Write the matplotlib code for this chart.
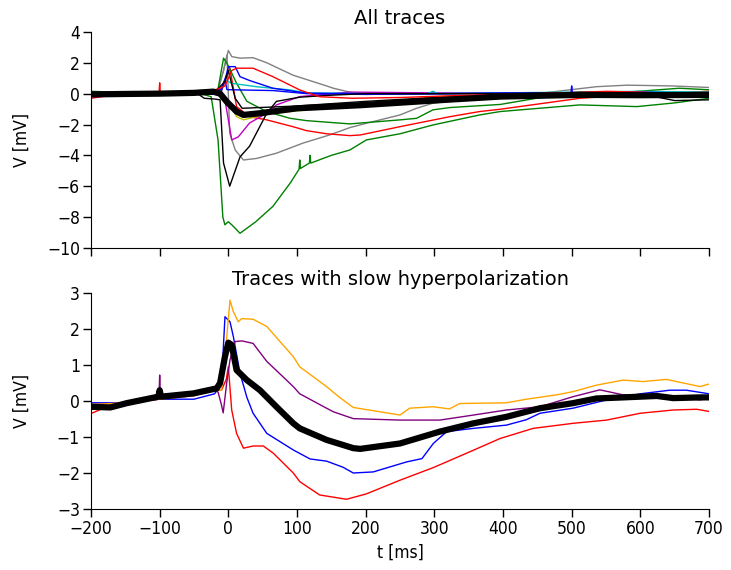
import matplotlib
matplotlib.use("Agg")
import matplotlib.pyplot as plt

plt.rcParams['font.family'] = ['DejaVu Sans']

# ---------------- top panel: all traces ----------------
t_red1 = [-200, -170, -130, -101, -100, -99, -60, -30, -15, -5, 0, 5, 12, 36, 65, 104, 133, 180, 250, 350, 450, 551, 600, 650, 700]
v_red1 = [-0.3, -0.1, 0.0, 0.0, 0.7, 0.0, 0.05, 0.15, 0.3, 0.5, 1.0, 1.5, 1.65, 1.65, 1.1, 0.24, -0.2, -0.3, -0.25, -0.1, 0.0, 0.15, 0.1, 0.0, 0.0]

t_red2 = [-200, -100, -30, -10, -3, 2, 12, 31, 56, 94, 114, 143, 177, 192, 250, 323, 366, 396, 512, 600, 700]
v_red2 = [0.0, 0.0, 0.05, 0.2, 1.0, 1.7, -0.84, -1.5, -1.7, -2.14, -2.4, -2.6, -2.72, -2.68, -2.14, -1.49, -1.16, -1.01, -0.3, -0.05, 0.15]

t_gray1 = [-200, -100, -30, -15, -7, 0, 5, 17, 36, 56, 94, 143, 153, 181, 250, 350, 450, 536, 581, 646, 700]
v_gray1 = [0.0, 0.0, 0.05, 0.3, 1.5, 2.8, 2.4, 2.3, 2.33, 2.0, 1.2, 0.5, 0.35, 0.05, -0.05, 0.0, 0.05, 0.1, 0.1, 0.0, -0.05]

t_gray2 = [-200, -100, -30, -15, -7, -2, 2, 10, 22, 41, 70, 109, 148, 177, 201, 250, 274, 298, 347, 395, 450, 536, 581, 646, 700]
v_gray2 = [0.0, 0.0, 0.0, 0.2, 1.5, 2.5, -2.56, -3.65, -4.3, -4.2, -3.86, -3.2, -2.67, -2.2, -1.92, -1.38, -0.95, -0.62, -0.34, -0.2, 0.0, 0.45, 0.55, 0.5, 0.4]

t_green1 = [-200, -100, -40, -25, -15, -8, -5, 0, 5, 17, 40, 65, 90, 103, 104, 105, 118, 119, 120, 150, 177, 201, 250, 298, 366, 396, 512, 595, 650, 700]
v_green1 = [0.15, 0.0, 0.0, -0.2, -3.0, -8.0, -8.5, -8.3, -8.5, -9.05, -8.3, -7.3, -5.8, -4.9, -4.3, -4.85, -4.5, -4.0, -4.5, -4.0, -3.65, -3.0, -2.6, -2.03, -1.38, -1.16, -0.73, -0.84, -0.6, -0.3]

t_green2 = [-200, -100, -30, -15, -7, 0, 12, 27, 56, 90, 114, 177, 250, 274, 298, 323, 396, 463, 550, 657, 700]
v_green2 = [0.1, 0.0, 0.0, 0.3, 2.3, 1.8, 0.67, -0.5, -1.17, -1.6, -1.75, -1.96, -1.7, -1.6, -1.05, -0.9, -0.7, -0.19, 0.0, 0.35, 0.25]

t_black1 = [-200, -100, -45, -35, -20, -12, -7, 2, 17, 31, 56, 70, 104, 150, 200, 300, 400, 500, 600, 650, 700]
v_black1 = [0.0, 0.0, 0.0, -0.3, -0.35, -0.4, -4.5, -6.0, -4.1, -3.4, -1.27, -0.5, -0.23, -0.1, 0.0, 0.0, 0.0, 0.05, 0.0, -0.45, -0.4]

t_black2 = [-200, -100, -20, -5, 0, 10, 20, 46, 100, 200, 300, 400, 500, 600, 700]
v_black2 = [0.0, 0.0, 0.05, 0.8, 1.5, -0.3, -0.95, -0.9, -0.8, -0.5, -0.25, -0.1, 0.0, 0.0, 0.0]

t_blue1 = [-200, -100, -30, -10, -3, 0, 10, 17, 31, 65, 114, 200, 300, 400, 499, 500, 501, 600, 700]
v_blue1 = [0.0, 0.0, 0.0, 0.3, 1.2, 1.75, 1.75, 1.1, 0.85, 0.35, 0.03, 0.0, 0.0, 0.05, 0.05, 0.5, 0.05, 0.1, 0.0]

t_blue2 = [-200, -100, -30, -12, -5, -2, 17, 65, 114, 200, 300, 400, 500, 600, 700]
v_blue2 = [0.0, 0.0, 0.0, -0.08, 0.9, 0.26, 0.24, 0.2, 0.0, -0.05, 0.0, 0.0, 0.0, -0.05, -0.05]

t_cyan = [-200, -100, -30, -12, -5, 5, 41, 90, 114, 200, 290, 298, 306, 400, 500, 600, 700]
v_cyan = [0.0, 0.0, 0.0, 0.1, 0.9, 0.67, 0.45, 0.24, 0.05, 0.0, 0.0, 0.15, 0.0, 0.05, 0.1, 0.15, 0.1]

t_magenta = [-200, -100, -30, -10, -5, 5, 14.5, 31, 56, 70, 104, 177, 300, 400, 500, 600, 700]
v_magenta = [0.0, 0.0, 0.0, 0.0, -0.4, -3.0, -2.8, -1.9, -1.27, -0.73, -0.19, 0.1, 0.05, 0.0, 0.0, 0.0, -0.05]

t_yellow = [-200, -100, -30, -10, 0, 12, 22, 41, 65, 90, 138, 177, 250, 300, 400, 500, 600, 700]
v_yellow = [0.0, 0.0, 0.0, 0.0, -0.5, -1.49, -1.7, -1.49, -1.27, -1.16, -0.95, -0.7, -0.45, -0.2, -0.1, 0.0, 0.0, 0.0]

t_mean_all = [-200, -150, -100, -50, -22, -12, -2.4, 12, 22, 46, 100, 192, 298, 396, 512, 600, 700]
v_mean_all = [-0.05, -0.02, 0.0, 0.05, 0.13, 0.0, -0.52, -1.16, -1.38, -1.27, -0.95, -0.75, -0.45, -0.19, -0.08, -0.1, -0.08]

top_traces = [
    (t_gray1, v_gray1, 'gray'),
    (t_gray2, v_gray2, 'gray'),
    (t_red2, v_red2, 'red'),
    (t_green2, v_green2, 'green'),
    (t_green1, v_green1, 'green'),
    (t_yellow, v_yellow, '#c0c000'),
    (t_magenta, v_magenta, '#c000c0'),
    (t_cyan, v_cyan, '#00c0c0'),
    (t_blue2, v_blue2, 'blue'),
    (t_blue1, v_blue1, 'blue'),
    (t_black2, v_black2, 'black'),
    (t_black1, v_black1, 'black'),
    (t_red1, v_red1, 'red'),
]

# ---------------- bottom panel: slow hyperpolarization ----------------
t_orange = [-200, -150, -100, -50, -20, -10, -5, 2.4, 7.3, 14.5, 19.4, 36, 56, 94.6, 104, 143, 162, 182, 250, 264, 298, 322, 337, 405, 434, 478, 502, 536, 575, 604, 638, 687, 700]
v_orange = [-0.1, -0.05, 0.05, 0.15, 0.3, 0.3, 1.2, 2.8, 2.48, 2.2, 2.29, 2.27, 2.07, 1.23, 0.95, 0.4, 0.1, -0.18, -0.39, -0.2, -0.16, -0.22, -0.07, -0.05, 0.05, 0.17, 0.26, 0.44, 0.58, 0.54, 0.6, 0.4, 0.47]

t_purple = [-200, -150, -101, -100, -99, -50, -30, -15, -10, -7.5, -2.4, 2.4, 9.7, 19.4, 36, 56, 94.6, 104, 143, 153, 182, 250, 308, 357, 405, 454, 502, 541, 575, 624, 687, 700]
v_purple = [-0.1, -0.05, 0.1, 0.72, 0.1, 0.25, 0.35, 0.25, -0.11, -0.33, 0.5, 1.14, 1.65, 1.67, 1.6, 1.1, 0.4, 0.2, -0.2, -0.3, -0.49, -0.53, -0.53, -0.39, -0.25, -0.16, 0.12, 0.31, 0.17, 0.17, 0.03, 0.08]

t_blue_b = [-200, -150, -100, -50, -20, -10, -4.9, 2.4, 7.3, 17, 27, 36, 56, 94.6, 119, 143, 167, 182, 211, 260, 282, 298.5, 318, 357, 405, 434, 454, 502, 551, 600, 643, 667, 700]
v_blue_b = [-0.05, -0.05, 0.05, 0.05, 0.2, 0.5, 2.34, 2.2, 1.79, 0.77, 0.1, -0.34, -0.9, -1.36, -1.61, -1.67, -1.84, -2.0, -1.97, -1.69, -1.6, -1.18, -0.85, -0.76, -0.67, -0.52, -0.34, -0.2, 0.03, 0.2, 0.3, 0.3, 0.2]

t_red_b = [-200, -170, -130, -100, -50, -20, -10, -3, 0, 4.9, 12, 22, 36, 51, 65.5, 94.6, 104, 133, 172, 201, 250, 298.5, 347, 396, 444, 502, 551, 600, 648, 682, 700]
v_red_b = [-0.35, -0.1, 0.0, 0.05, 0.15, 0.3, 0.3, 0.6, 0.95, -0.25, -0.9, -1.31, -1.25, -1.25, -1.45, -2.0, -2.24, -2.61, -2.73, -2.58, -2.2, -1.85, -1.45, -1.04, -0.76, -0.62, -0.53, -0.34, -0.25, -0.23, -0.29]

t_mean_slow = [-200, -172, -148, -102, -100, -98, -51, -17, -12, -5, 0, 4.8, 12, 27, 46, 70, 94.6, 104, 143, 182, 192, 250, 308, 357, 405, 454, 502, 536, 575, 624, 648, 687, 700]
v_mean_slow = [-0.16, -0.18, -0.06, 0.12, 0.3, 0.12, 0.21, 0.35, 0.5, 1.23, 1.62, 1.56, 0.86, 0.58, 0.3, -0.16, -0.62, -0.76, -1.08, -1.31, -1.33, -1.18, -0.85, -0.62, -0.44, -0.2, -0.06, 0.07, 0.1, 0.14, 0.08, 0.1, 0.1]

slow_traces = [
    (t_red_b, v_red_b, 'red'),
    (t_blue_b, v_blue_b, 'blue'),
    (t_purple, v_purple, 'purple'),
    (t_orange, v_orange, 'orange'),
]

x_ticks = [-200, -100, 0, 100, 200, 300, 400, 500, 600, 700]
y_ticks_top = [4, 2, 0, -2, -4, -6, -8, -10]
y_ticks_bot = [3, 2, 1, 0, -1, -2, -3]

fig = plt.figure(figsize=(7.31, 5.70), dpi=100)
ax1 = fig.add_axes([0.1245, 0.565, 0.8454, 0.379])
ax2 = fig.add_axes([0.1245, 0.107, 0.8454, 0.379])

for t, v, c in top_traces:
    ax1.plot(t, v, color=c, lw=1.0)
ax1.plot(t_mean_all, v_mean_all, color='black', lw=4.5, solid_capstyle='round')

for t, v, c in slow_traces:
    ax2.plot(t, v, color=c, lw=1.0)
ax2.plot(t_mean_slow, v_mean_slow, color='black', lw=4.5, solid_capstyle='round')

for ax, yt, ylim in [(ax1, y_ticks_top, (-10, 4)), (ax2, y_ticks_bot, (-3, 3))]:
    ax.set_xlim(-200, 700)
    ax.set_ylim(*ylim)
    ax.set_xticks(x_ticks)
    ax.set_yticks(yt)
    for s in ['top', 'right']:
        ax.spines[s].set_visible(False)
    ax.tick_params(direction='out', length=6, width=1, top=False, right=False, pad=2)
    ax.set_ylabel('V [mV]', fontsize=12.5, stretch='condensed')
    ax.yaxis.set_label_coords(-0.097, 0.5)

ax1.set_xticklabels([])
ax2.set_xticklabels([str(x).replace('-', '\u2212') for x in x_ticks])
ax1.set_yticklabels([str(y).replace('-', '\u2212') for y in y_ticks_top])
ax2.set_yticklabels([str(y).replace('-', '\u2212') for y in y_ticks_bot])
for ax in (ax1, ax2):
    for lab in ax.get_yticklabels() + ax.get_xticklabels():
        lab.set_fontstretch('condensed')
        lab.set_fontsize(12.5)

ax2.set_xlabel('t [ms]', fontsize=12.5, stretch='condensed')
ax1.set_title('All traces', fontsize=14)
ax2.set_title('Traces with slow hyperpolarization', fontsize=14)

fig.savefig('out.png', dpi=100)
